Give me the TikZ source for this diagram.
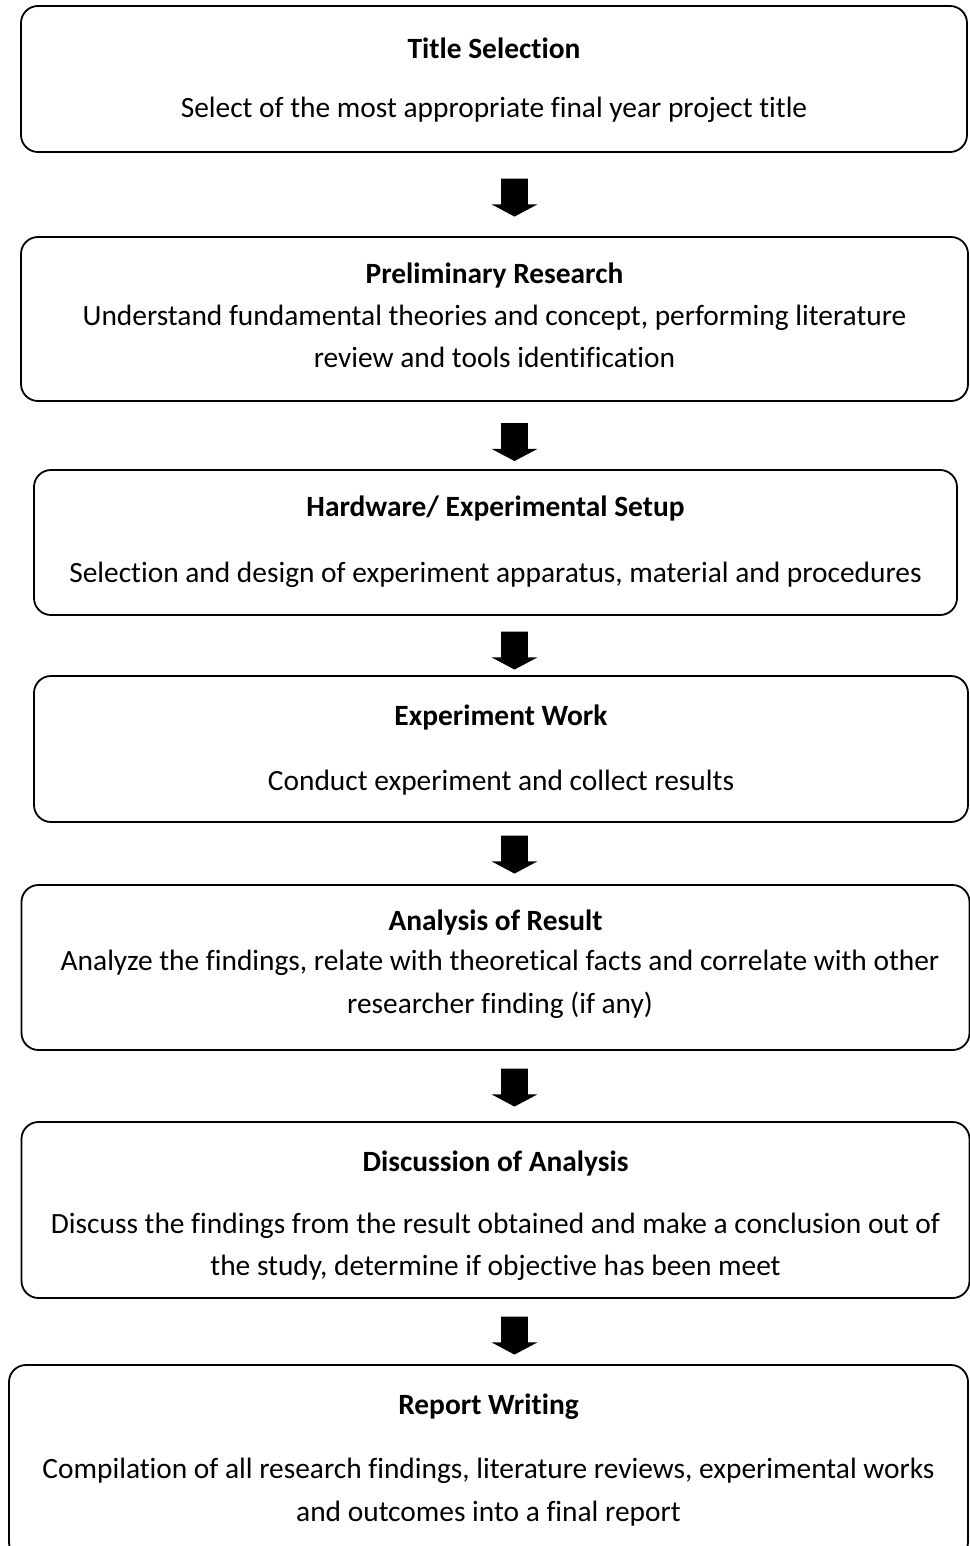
\documentclass[tikz,border=0pt]{standalone}
\usepackage{fontspec}
\setmainfont{Carlito}[Ligatures=NoCommon]
\usetikzlibrary{shapes.arrows}

\begin{document}
\begin{tikzpicture}
  [
    x=0.5pt, y=-0.5pt,
    stagebox/.style={draw, line width=0.9pt, rounded corners=8.5pt, inner sep=0pt},
    headline/.style={anchor=base, inner sep=0pt, font=\fontsize{14.7}{17}\selectfont\bfseries},
    bodyline/.style={anchor=base, inner sep=0pt, font=\fontsize{14.7}{17}\selectfont},
    downarrow/.style={single arrow, fill=black, draw=none, inner sep=0pt, rotate=-90,
      text height=13pt, text depth=0pt, text width=0pt,
      minimum height=19pt, single arrow head extend=4.75pt,
      single arrow tip angle=124}
  ]
    \useasboundingbox (0,0) rectangle (969,1546);
    % stages
    \node[stagebox, minimum width=473pt, minimum height=73pt] (s1) at (494,79) {};
    \node[headline] (h1) at (494,59) {Title Selection};
    \node[bodyline] (b1) at (494,118) {Select of the most appropriate final year project title};

    \node[stagebox, minimum width=473.5pt, minimum height=82pt] (s2) at (494.5,319) {};
    \node[headline] (h2) at (494.5,283) {Preliminary Research};
    \node[bodyline] (b2a) at (494.5,325) {Understand fundamental theories and concept, performing literature};
    \node[bodyline] (b2b) at (494.5,367) {review and tools identification};

    \node[stagebox, minimum width=461.5pt, minimum height=72.5pt] (s3) at (495.5,542.5) {};
    \node[headline] (h3) at (495.5,516) {Hardware/ Experimental Setup};
    \node[bodyline] (b3) at (495.5,582) {Selection and design of experiment apparatus, material and procedures};

    \node[stagebox, minimum width=467pt, minimum height=73pt] (s4) at (501,749) {};
    \node[headline] (h4) at (501,725) {Experiment Work};
    \node[bodyline] (b4) at (501,790) {Conduct experiment and collect results};

    \node[stagebox, minimum width=474pt, minimum height=82.5pt] (s5) at (495.5,967.5) {};
    \node[headline] (h5) at (495.5,930) {Analysis of Result};
    \node[bodyline] (b5a) at (500,970) {Analyze the findings, relate with theoretical facts and correlate with other};
    \node[bodyline] (b5b) at (500,1013) {researcher finding (if any)};

    \node[stagebox, minimum width=474pt, minimum height=88pt] (s6) at (495.5,1210) {};
    \node[headline] (h6) at (495.5,1171) {Discussion of Analysis};
    \node[bodyline] (b6a) at (495.5,1233) {Discuss the findings from the result obtained and make a conclusion out of};
    \node[bodyline] (b6b) at (495.5,1275) {the study, determine if objective has been meet};

    \node[stagebox, minimum width=479.5pt, minimum height=97pt] (s7) at (488.5,1462) {};
    \node[headline] (h7) at (488.5,1414) {Report Writing};
    \node[bodyline] (b7a) at (488.5,1478) {Compilation of all research findings, literature reviews, experimental works};
    \node[bodyline] (b7b) at (488.5,1521) {and outcomes into a final report};

    % block arrows between stages
    \node[downarrow] (a1) at (514.5,194) {};
    \node[downarrow] (a2) at (514.5,438.5) {};
    \node[downarrow] (a3) at (514.5,647) {};
    \node[downarrow] (a4) at (514.5,851) {};
    \node[downarrow] (a5) at (514.5,1084) {};
    \node[downarrow] (a6) at (514.5,1332) {};
\end{tikzpicture}
\end{document}
